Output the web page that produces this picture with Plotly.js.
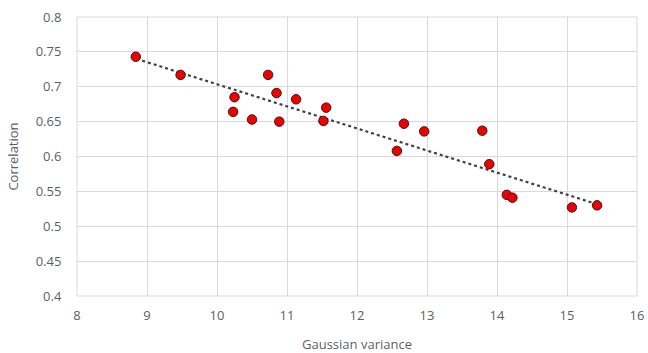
<!DOCTYPE html>
<html>
<head>
<meta charset="utf-8">
<script src="https://cdn.plot.ly/plotly-3.0.1.min.js"></script>
<style>html,body{margin:0;padding:0;background:#fff;}#chart{width:648px;height:353px;}</style>
</head>
<body>
<div id="chart"></div>
<script>
// Data
const gaussianVariance = [8.84, 9.48, 10.73, 10.25, 10.23, 10.85, 11.13, 10.50, 10.89, 11.56, 11.52,
                          12.67, 12.96, 12.57, 13.79, 13.89, 14.14, 14.22, 15.07, 15.43];
const correlation      = [0.743, 0.717, 0.717, 0.685, 0.664, 0.691, 0.682, 0.653, 0.650, 0.670, 0.651,
                          0.647, 0.636, 0.608, 0.637, 0.589, 0.545, 0.541, 0.527, 0.530];
// Trendline endpoints
const trendX = [8.85, 15.45];
const trendY = [0.740, 0.531];
const xTicks = [8, 9, 10, 11, 12, 13, 14, 15, 16];
const yTicks = [0.4, 0.45, 0.5, 0.55, 0.6, 0.65, 0.7, 0.75, 0.8];

const fontFam = '"Open Sans", "Liberation Sans", sans-serif';
const gray = '#5a5f66';

const traces = [
  {
    x: trendX, y: trendY, mode: 'lines', type: 'scatter',
    line: {color: '#404040', width: 2.2, dash: 'dot'},
    hoverinfo: 'skip', showlegend: false
  },
  {
    x: gaussianVariance, y: correlation, mode: 'markers', type: 'scatter',
    marker: {color: '#ee0000', size: 9.5, line: {color: '#3a1a1a', width: 1}},
    showlegend: false
  }
];

const layout = {
  width: 648, height: 353,
  margin: {l: 77, r: 11, t: 17, b: 57},
  paper_bgcolor: '#fff', plot_bgcolor: '#fff',
  font: {family: fontFam, color: gray, size: 13},
  xaxis: {
    range: [8, 16], tickvals: xTicks, ticktext: xTicks.map(String),
    showgrid: true, gridcolor: '#d9d9d9', gridwidth: 1,
    zeroline: false, showline: false,
    ticks: 'outside', ticklen: 7, tickcolor: 'rgba(0,0,0,0)',
    tickfont: {size: 13, color: gray, family: fontFam},
    title: {text: 'Gaussian variance', font: {size: 13, color: gray, family: fontFam}, standoff: 17}
  },
  yaxis: {
    range: [0.4, 0.8], tickvals: yTicks, ticktext: yTicks.map(v => String(v)),
    showgrid: true, gridcolor: '#d9d9d9', gridwidth: 1,
    zeroline: false, showline: false,
    ticks: 'outside', ticklen: 12, tickcolor: 'rgba(0,0,0,0)',
    tickfont: {size: 13, color: gray, family: fontFam},
    title: {text: 'Correlation', font: {size: 13, color: gray, family: fontFam}, standoff: 14}
  },
  shapes: [
    {type: 'rect', xref: 'paper', yref: 'paper', x0: 0, x1: 1, y0: 0, y1: 1,
     line: {color: '#d9d9d9', width: 1}, layer: 'below'}
  ]
};

Plotly.newPlot('chart', traces, layout, {displayModeBar: false, staticPlot: true});
</script>
</body>
</html>
